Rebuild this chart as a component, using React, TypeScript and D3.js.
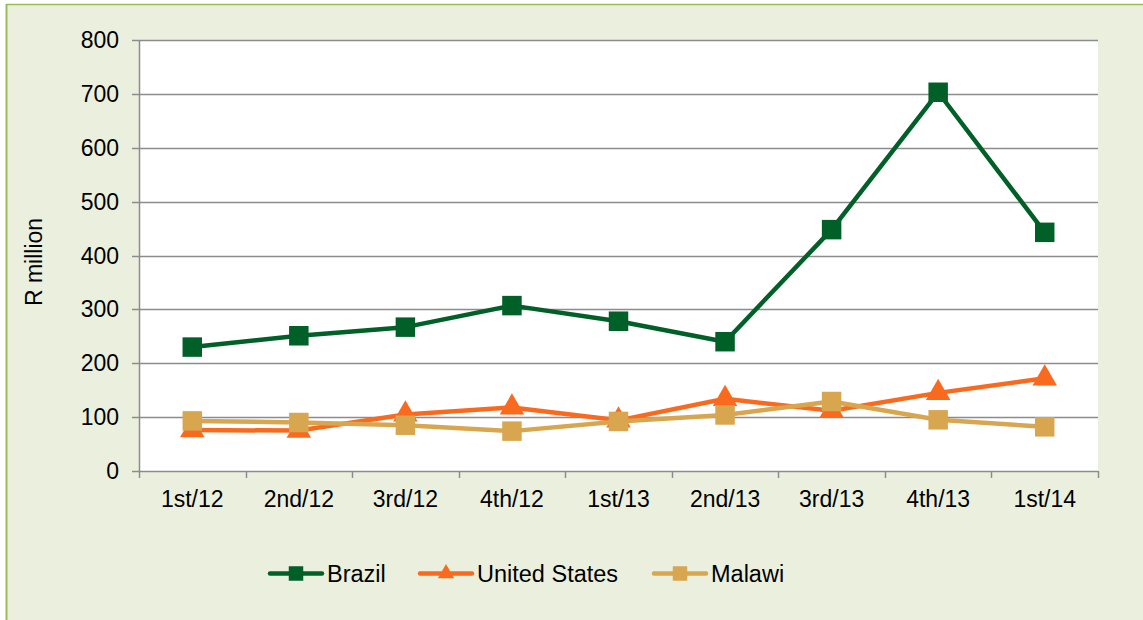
import { useEffect, useRef } from "react";
import * as d3 from "d3";

const quarters = ["1st/12", "2nd/12", "3rd/12", "4th/12", "1st/13", "2nd/13", "3rd/13", "4th/13", "1st/14"];
const brazil = [230, 251, 267, 307, 278, 240, 448, 703, 443];
const unitedStates = [76, 75, 105, 118, 94, 134, 112, 145, 172];
const malawi = [93, 90, 85, 74, 92, 104, 129, 95, 82];
const yTicks = [0, 100, 200, 300, 400, 500, 600, 700, 800];

const series = [
  { name: "Brazil", values: brazil, color: "#006028", shape: "square" },
  { name: "United States", values: unitedStates, color: "#FA6A1E", shape: "triangle" },
  { name: "Malawi", values: malawi, color: "#D9A650", shape: "square" },
];

export default function App() {
  const svgRef = useRef<SVGSVGElement>(null);

  useEffect(() => {
    document.body.style.margin = "0";
    if (!svgRef.current) return;
    const svg = d3.select(svgRef.current);
    svg.selectAll("*").remove();

    const width = 1143;
    const height = 620;
    const plot = { left: 139, right: 1098, top: 40, bottom: 471 };
    const font = "'Liberation Sans', Arial, sans-serif";
    const fs = 23;

    // chart frame
    svg.append("rect").attr("width", width).attr("height", height).attr("fill", "#fff");
    svg.append("rect").attr("x", 6).attr("y", 4).attr("width", width).attr("height", height)
      .attr("fill", "#EBF0DE");
    svg.append("line").attr("x1", 6).attr("x2", width).attr("y1", 4.5).attr("y2", 4.5)
      .attr("stroke", "#9BBB59").attr("stroke-width", 1.5);
    svg.append("line").attr("x1", 6.5).attr("x2", 6.5).attr("y1", 4).attr("y2", height)
      .attr("stroke", "#9BBB59").attr("stroke-width", 2);

    const x = d3.scaleBand().domain(quarters).range([plot.left, plot.right]);
    const y = d3.scaleLinear().domain([0, 800]).range([plot.bottom, plot.top]);

    svg.append("rect").attr("x", plot.left).attr("y", plot.top)
      .attr("width", plot.right - plot.left).attr("height", plot.bottom - plot.top).attr("fill", "#fff");

    // gridlines
    svg.append("g").selectAll("line").data(yTicks).enter().append("line")
      .attr("x1", plot.left - 7).attr("x2", plot.right)
      .attr("y1", (d) => Math.round(y(d)) + 0.5).attr("y2", (d) => Math.round(y(d)) + 0.5)
      .attr("stroke", "#8C8C8C").attr("stroke-width", 1.5);

    // y axis line
    svg.append("line").attr("x1", plot.left + 0.5).attr("x2", plot.left + 0.5)
      .attr("y1", plot.top).attr("y2", plot.bottom)
      .attr("stroke", "#8C8C8C").attr("stroke-width", 1.5);

    // x ticks at category boundaries
    const bounds = quarters.map((q) => x(q)!).concat([plot.right]);
    svg.append("g").selectAll("line").data(bounds).enter().append("line")
      .attr("x1", (d) => Math.round(d) + 0.5).attr("x2", (d) => Math.round(d) + 0.5)
      .attr("y1", plot.bottom).attr("y2", plot.bottom + 7)
      .attr("stroke", "#8C8C8C").attr("stroke-width", 1.5);

    // y labels
    svg.append("g").selectAll("text").data(yTicks).enter().append("text")
      .attr("x", plot.left - 20).attr("y", (d) => y(d) + 8)
      .attr("text-anchor", "end").attr("font-family", font).attr("font-size", fs)
      .attr("fill", "#000").text((d) => d);

    // x labels
    svg.append("g").selectAll("text").data(quarters).enter().append("text")
      .attr("x", (d) => x(d)! + x.bandwidth() / 2).attr("y", 507)
      .attr("text-anchor", "middle").attr("font-family", font).attr("font-size", fs)
      .attr("fill", "#000").text((d) => d);

    // y title
    svg.append("text").attr("transform", "translate(42,262) rotate(-90)")
      .attr("text-anchor", "middle").attr("font-family", font).attr("font-size", fs)
      .text("R million");

    const cx = (i: number) => x(quarters[i])! + x.bandwidth() / 2;
    const line = d3.line<number>().x((_, i) => cx(i)).y((d) => y(d));
    const sym = (shape: string) =>
      shape === "square"
        ? d3.symbol().type(d3.symbolSquare).size(380)
        : d3.symbol().type(d3.symbolTriangle).size(260);

    series.forEach((s) => {
      const g = svg.append("g");
      g.append("path").datum(s.values).attr("d", line).attr("fill", "none")
        .attr("stroke", s.color).attr("stroke-width", 4.5).attr("stroke-linejoin", "round")
        .attr("stroke-linecap", "round");
      g.selectAll("path.m").data(s.values).enter().append("path").attr("class", "m")
        .attr("d", sym(s.shape)()!)
        .attr("transform", (d, i) => `translate(${cx(i)},${y(d)})`)
        .attr("fill", s.color);
    });

    // legend
    const legendX = [270, 420, 654];
    series.forEach((s, i) => {
      const g = svg.append("g").attr("transform", `translate(${legendX[i]},573.5)`);
      g.append("line").attr("x1", 0).attr("x2", 52).attr("y1", 0).attr("y2", 0)
        .attr("stroke", s.color).attr("stroke-width", 4.5).attr("stroke-linecap", "round");
      g.append("path").attr("d", (s.shape === "square"
        ? d3.symbol().type(d3.symbolSquare).size(210)
        : d3.symbol().type(d3.symbolTriangle).size(115))()!)
        .attr("transform", "translate(26,0)").attr("fill", s.color);
      g.append("text").attr("x", 57).attr("y", 8).attr("font-family", font).attr("font-size", 23.5)
        .attr("fill", "#000").text(s.name);
    });
  }, []);

  return <svg ref={svgRef} width={1143} height={620} style={{ display: "block" }} />;
}
